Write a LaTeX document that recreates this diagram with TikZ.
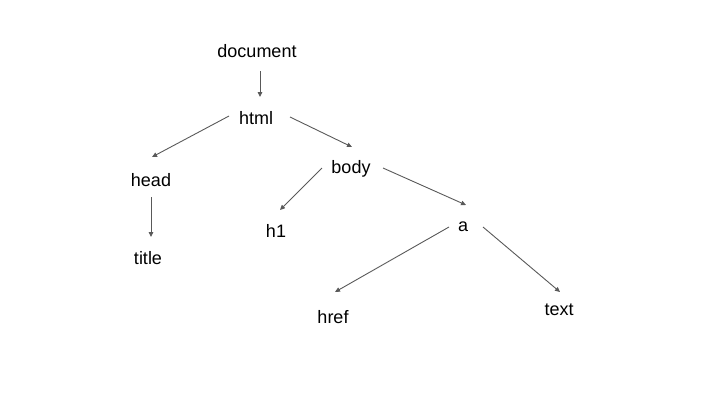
\documentclass[tikz,border=0pt]{standalone}
\usepackage{fontspec}
\setmainfont{Liberation Sans}
\usetikzlibrary{arrows.meta}
\begin{document}
\begin{tikzpicture}[x=1pt,y=-1pt,
  lbl/.style={inner sep=0pt,font=\fontsize{18}{21}\selectfont},
  conn/.style={draw=black!65,line width=0.9pt,-{Triangle[length=5pt,width=4.5pt]}}]
\useasboundingbox (0,0) rectangle (720,405);
\node[lbl] (document) at (257,51) {document};
\node[lbl] (html) at (256,118) {html};
\node[lbl] (head) at (151,180) {head};
\node[lbl] (title) at (148,258) {title};
\node[lbl] (body) at (351,169) {body};
\node[lbl] (h1) at (276,231) {h1};
\node[lbl] (a) at (463,227) {a};
\node[lbl] (href) at (333,317) {href};
\node[lbl] (text) at (559,310) {text};
% connector end points
\coordinate (d-s) at (260,71);   \coordinate (d-e) at (260,97);
\coordinate (hh-s) at (229,116); \coordinate (hh-e) at (152,157);
\coordinate (hb-s) at (290,117); \coordinate (hb-e) at (352,147);
\coordinate (ht-s) at (151,197); \coordinate (ht-e) at (151,237);
\coordinate (bh-s) at (322,168); \coordinate (bh-e) at (280,210);
\coordinate (ba-s) at (383,168); \coordinate (ba-e) at (466,205);
\coordinate (ah-s) at (449,227); \coordinate (ah-e) at (335,292);
\coordinate (at-s) at (483,227); \coordinate (at-e) at (560,292);
\draw[conn] (d-s) -- (d-e);
\draw[conn] (hh-s) -- (hh-e);
\draw[conn] (hb-s) -- (hb-e);
\draw[conn] (ht-s) -- (ht-e);
\draw[conn] (bh-s) -- (bh-e);
\draw[conn] (ba-s) -- (ba-e);
\draw[conn] (ah-s) -- (ah-e);
\draw[conn] (at-s) -- (at-e);
\end{tikzpicture}
\end{document}
